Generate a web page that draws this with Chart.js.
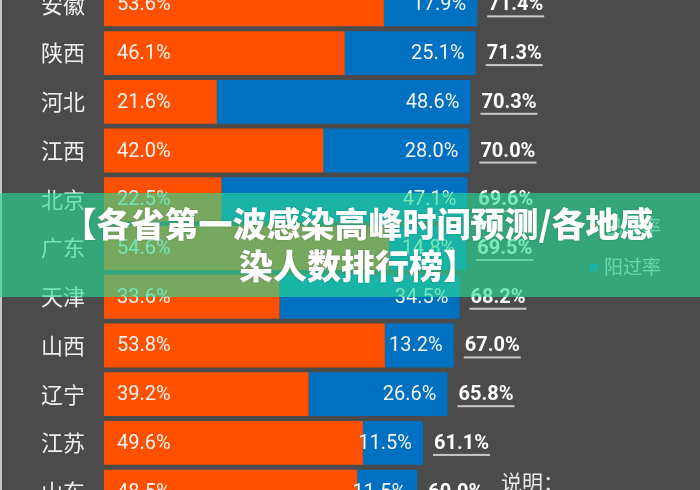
<!DOCTYPE html>
<html>
<head>
<meta charset="utf-8">
<script src="https://cdn.jsdelivr.net/npm/chart.js@4.4.1/dist/chart.umd.min.js"></script>
<style>
  html, body { margin: 0; padding: 0; }
  body { width: 700px; height: 490px; background: #4b4b4b; position: relative; overflow: hidden; }
  #edge { position: absolute; left: 0; top: 0; width: 2px; height: 490px; background: #c4c4c4; }
  #chart { position: absolute; left: 0; top: -20px; width: 700px; height: 536px; }
  #note { position: absolute; left: 501px; top: 466px; font: 21px "Noto Sans CJK SC", sans-serif; color: #e8e8e8; }
  #banner {
    position: absolute; left: 0; top: 193px; width: 700px; height: 104px;
    background: rgba(40, 220, 150, 0.63);
    box-sizing: border-box; padding-top: 9px; padding-left: 16px;
    font: 900 34px/42px "Noto Sans CJK SC", sans-serif; color: #fff;
    text-align: center; text-shadow: 0 0 2px rgba(0,0,0,0.25);
  }
</style>
</head>
<body>
<div id="edge"></div>
<canvas id="chart" width="700" height="536"></canvas>
<div id="note">说明：</div>
<div id="banner">【各省第一波感染高峰时间预测/各地感<br>染人数排行榜】</div>
<script>
// 省份
var provinces = ['安徽', '陕西', '河北', '江西', '北京', '广东', '天津', '山西', '辽宁', '江苏', '山东'];
// 已阳率 (橙) / 阳过率 (蓝) / 合计
var yiyang  = [53.6, 46.1, 21.6, 42.0, 22.5, 54.6, 33.6, 53.8, 39.2, 49.6, 48.5];
var yangguo = [17.9, 25.1, 48.6, 28.0, 47.1, 14.8, 34.5, 13.2, 26.6, 11.5, 11.5];
var totals  = [71.4, 71.3, 70.3, 70.0, 69.6, 69.5, 68.2, 67.0, 65.8, 61.1, 60.0];
var seriesNames = ['已阳率', '阳过率'];

var labelPlugin = {
  id: 'barLabels',
  afterDatasetsDraw: function(chart) {
    var ctx = chart.ctx;
    var m0 = chart.getDatasetMeta(0), m1 = chart.getDatasetMeta(1);
    ctx.save();
    ctx.textBaseline = 'middle';
    for (var i = 0; i < provinces.length; i++) {
      var a = m0.data[i], b = m1.data[i];
      ctx.font = '20px Roboto';
      ctx.fillStyle = '#f3f3f3';
      ctx.textAlign = 'left';
      ctx.fillText(yiyang[i].toFixed(1) + '%', a.base + 13, a.y + 1);
      ctx.textAlign = 'right';
      ctx.fillText(yangguo[i].toFixed(1) + '%', b.x - 11, b.y + 1);
      // total, underlined
      var t = totals[i].toFixed(1) + '%';
      ctx.font = 'bold 20px Roboto';
      ctx.fillStyle = '#ffffff';
      ctx.textAlign = 'left';
      var tx = b.x + 11;
      ctx.fillText(t, tx, b.y + 1);
      var w = ctx.measureText(t).width;
      ctx.fillStyle = '#c9c9c9';
      ctx.fillRect(tx - 1, b.y + 11, w + 2, 2);
    }
    // legend (page y = canvas y - 20)
    var ds = chart.data.datasets;
    ctx.font = '19px "Noto Sans CJK SC"';
    ctx.textAlign = 'left';
    for (var k = 0; k < ds.length; k++) {
      var ly = 247 + k * 40;
      ctx.fillStyle = ds[k].backgroundColor;
      ctx.fillRect(590, ly - 3, 7, 7);
      ctx.fillStyle = '#d0d0d0';
      ctx.fillText(ds[k].label, 604, ly);
    }
    ctx.restore();
  }
};

new Chart(document.getElementById('chart'), {
  type: 'bar',
  data: {
    labels: provinces,
    datasets: [
      { label: seriesNames[0], data: yiyang, backgroundColor: '#ff5000' },
      { label: seriesNames[1], data: yangguo, backgroundColor: '#0070c0' }
    ]
  },
  options: {
    indexAxis: 'y',
    responsive: false,
    animation: false,
    layout: { padding: { left: 0, right: 74, top: 0, bottom: 0 } },
    datasets: { bar: { barPercentage: 0.9, categoryPercentage: 1 } },
    plugins: { legend: { display: false }, tooltip: { enabled: false } },
    scales: {
      x: { stacked: true, display: false, min: 0, max: 100 },
      y: {
        stacked: true,
        grid: { display: false, drawTicks: false },
        border: { display: false },
        ticks: { color: '#eeeeee', padding: 19, font: { family: 'Noto Sans CJK SC', size: 22 } },
        afterFit: function(scale) {
          scale.width = 104;
          scale.paddingTop = 0;
          scale.paddingBottom = 0;
        }
      }
    }
  },
  plugins: [labelPlugin]
});
</script>
</body>
</html>
